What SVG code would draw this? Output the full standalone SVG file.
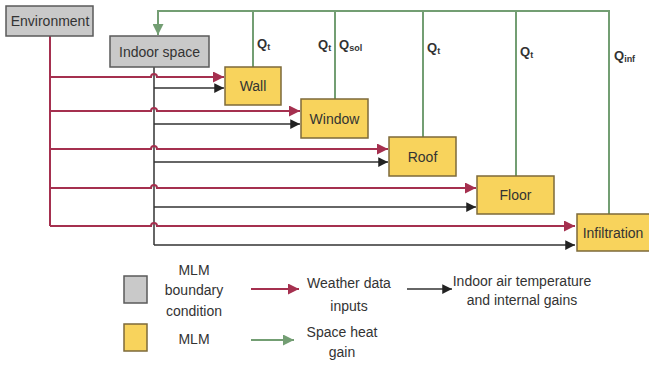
<svg xmlns="http://www.w3.org/2000/svg" width="649" height="367" viewBox="0 0 649 367">
<defs>
<style>
.bc{fill:#c9c9c9;stroke:#5a5a5a;stroke-width:1.5}
.mlm{fill:#f8d35c;stroke:#7d6a3a;stroke-width:1.5}
.t{font-family:"Liberation Sans",Arial,sans-serif;font-size:14px;fill:#333;text-anchor:middle}
.q{font-family:"Liberation Sans",Arial,sans-serif;font-size:13px;font-weight:bold;fill:#333}
.q tspan.s{font-size:9px}
.r{fill:none;stroke:#a5304f;stroke-width:2}
.k{fill:none;stroke:#333;stroke-width:1.5}
.g{fill:none;stroke:#739e73;stroke-width:2}
</style>
<marker id="ar" viewBox="0 0 10 10" refX="10" refY="5" markerWidth="5.5" markerHeight="5.5" orient="auto" markerUnits="strokeWidth"><path d="M0,0L10,5L0,10z" fill="#a5304f"/></marker>
<marker id="ak" viewBox="0 0 10 10" refX="10" refY="5" markerWidth="6.5" markerHeight="6.5" orient="auto" markerUnits="strokeWidth"><path d="M0,0L10,5L0,10z" fill="#222"/></marker>
<marker id="ag" viewBox="0 0 10 10" refX="10" refY="5" markerWidth="5.5" markerHeight="5.5" orient="auto" markerUnits="strokeWidth"><path d="M0,0L10,5L0,10z" fill="#739e73"/></marker>
</defs>
<rect width="649" height="367" fill="#fff"/>
<g id="connectors">
<path class="g" d="M609,214V11H158V35" marker-end="url(#ag)"/>
<path class="g" d="M253,67V11M335,99V11M423,137V11M516,176V11"/>
<path class="k" d="M154,67V245"/>
<path class="k" d="M154,88H224" marker-end="url(#ak)"/>
<path class="k" d="M154,124H300" marker-end="url(#ak)"/>
<path class="k" d="M154,162H388" marker-end="url(#ak)"/>
<path class="k" d="M154,207H476" marker-end="url(#ak)"/>
<path class="k" d="M154,245H575" marker-end="url(#ak)"/>
<path class="r" d="M50,36V226"/>
<path class="r" d="M50,77H151A3,3 0 0 1 157,77H224" marker-end="url(#ar)"/>
<path class="r" d="M50,111H151A3,3 0 0 1 157,111H300" marker-end="url(#ar)"/>
<path class="r" d="M50,149H151A3,3 0 0 1 157,149H388" marker-end="url(#ar)"/>
<path class="r" d="M50,188H151A3,3 0 0 1 157,188H476" marker-end="url(#ar)"/>
<path class="r" d="M50,226H151A3,3 0 0 1 157,226H575" marker-end="url(#ar)"/>
</g>
<g id="environment"><rect class="bc" x="6" y="6" width="87" height="30"/><text class="t" x="50" y="26">Environment</text></g>
<g id="indoor-space"><rect class="bc" x="110" y="36" width="99" height="31"/><text class="t" x="159.5" y="56.5">Indoor space</text></g>
<g id="wall"><rect class="mlm" x="225" y="67" width="56" height="38"/><text class="t" x="253" y="91">Wall</text></g>
<g id="window"><rect class="mlm" x="301" y="99" width="67" height="39"/><text class="t" x="334.5" y="123.5">Window</text></g>
<g id="roof"><rect class="mlm" x="389" y="137" width="67" height="39"/><text class="t" x="422.5" y="161.5">Roof</text></g>
<g id="floor"><rect class="mlm" x="477" y="176" width="77" height="38"/><text class="t" x="515.5" y="200">Floor</text></g>
<g id="infiltration"><rect class="mlm" x="577" y="214" width="74" height="37"/><text class="t" x="613" y="237.5">Infiltration</text></g>
<g id="labels">
<text class="q" x="257" y="48">Q<tspan class="s" dy="2">t</tspan></text>
<text class="q" x="318" y="49">Q<tspan class="s" dy="2">t</tspan></text>
<text class="q" x="339" y="49">Q<tspan class="s" dy="2">sol</tspan></text>
<text class="q" x="427" y="52">Q<tspan class="s" dy="2">t</tspan></text>
<text class="q" x="520" y="56">Q<tspan class="s" dy="2">t</tspan></text>
<text class="q" x="614" y="60">Q<tspan class="s" dy="2">inf</tspan></text>
</g>
<g id="legend">
<rect class="bc" x="124" y="276" width="23" height="27"/>
<rect class="mlm" x="124" y="324" width="23" height="27"/>
<text class="t" x="194" y="275">MLM</text>
<text class="t" x="194" y="295">boundary</text>
<text class="t" x="194" y="316">condition</text>
<text class="t" x="194" y="344">MLM</text>
<path class="r" d="M251,289H299" marker-end="url(#ar)"/>
<path class="k" d="M407,289H452" marker-end="url(#ak)"/>
<path class="g" d="M251,340H294" marker-end="url(#ag)"/>
<text class="t" x="349" y="288">Weather data</text>
<text class="t" x="349" y="311">inputs</text>
<text class="t" x="522" y="286">Indoor air temperature</text>
<text class="t" x="522" y="305">and internal gains</text>
<text class="t" x="342" y="337">Space heat</text>
<text class="t" x="342" y="357">gain</text>
</g>
</svg>
